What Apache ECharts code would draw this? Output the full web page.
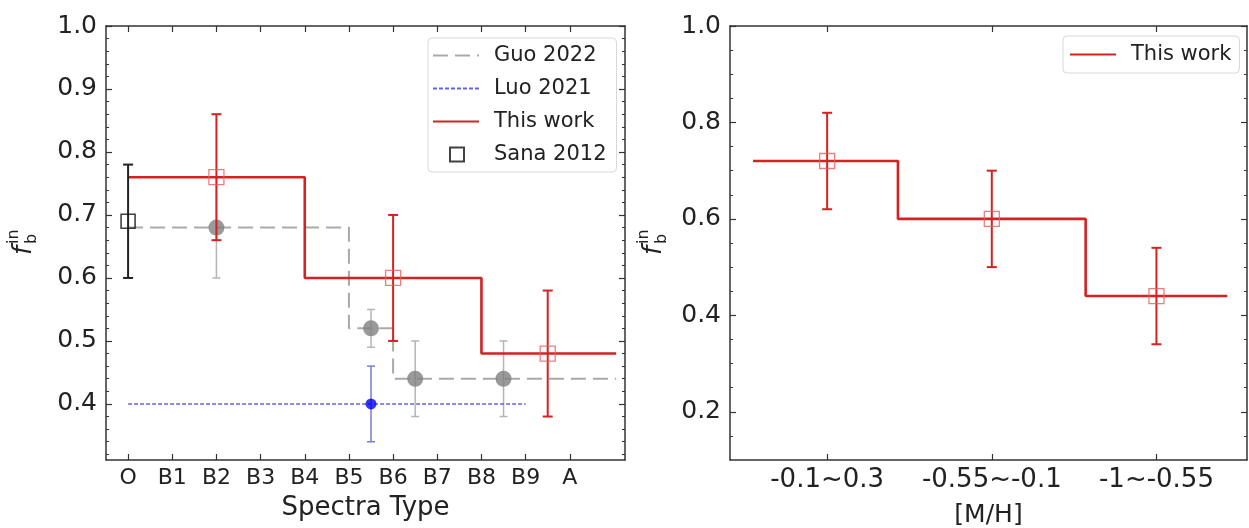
<!DOCTYPE html>
<html><head><meta charset="utf-8">
<script src="https://cdn.jsdelivr.net/npm/echarts@6/dist/echarts.min.js"></script>
<style>html,body{margin:0;padding:0;background:#fff}#c{width:1249px;height:528px}</style>
</head><body><div id="c"></div><script>
// ---------- data ----------
const spectraLabels = ['O','B1','B2','B3','B4','B5','B6','B7','B8','B9','A'];
const metalLabels = ['-0.1~0.3','-0.55~-0.1','-1~-0.55'];
const leftYTicks = [0.4,0.5,0.6,0.7,0.8,0.9,1.0];
const rightYTicks = [0.2,0.4,0.6,0.8,1.0];

// This work (spectral type)
const thisWorkEdges = [0, 4, 8, 11.05];
const thisWorkLevels = [0.76, 0.60, 0.48];
const thisWorkX = [2, 6, 9.5];
const thisWorkY = [0.76, 0.60, 0.48];
const thisWorkErr = [0.10, 0.10, 0.10];

// Guo 2022
const guoEdges = [0, 5, 6, 11.05];
const guoLevels = [0.68, 0.52, 0.44];
const guoX = [2, 5.5, 6.5, 8.5];
const guoY = [0.68, 0.52, 0.44, 0.44];
const guoErr = [0.08, 0.03, 0.06, 0.06];

// Luo 2021
const luoEdges = [0, 9];
const luoLevels = [0.40];
const luoX = [5.5];
const luoY = [0.40];
const luoErr = [0.06];

// Sana 2012
const sanaX = [0];
const sanaY = [0.69];
const sanaErr = [0.09];

// This work ([M/H])
const mhEdges = [-0.45, 0.43, 1.57, 2.43];
const mhLevels = [0.72, 0.60, 0.44];
const mhX = [0, 1, 2];
const mhY = [0.72, 0.60, 0.44];
const mhErr = [0.10, 0.10, 0.10];

// ---------- helpers ----------
const FONT = 'DejaVu Sans';
const AX = '#333';
function minorList(lo, hi, step, majors) {
  const out = [];
  for (let v = lo; v <= hi + 1e-9; v += step) {
    const r = Math.round(v * 1000) / 1000;
    if (!majors.some(m => Math.abs(m - r) < 1e-6)) out.push(r);
  }
  return out;
}
const leftYMinor = minorList(0.32, 0.98, 0.02, leftYTicks);
const rightYMinor = minorList(0.15, 0.95, 0.05, rightYTicks);

function stepPoints(edges, levels) {
  const pts = [];
  levels.forEach((v, i) => { pts.push([edges[i], v]); pts.push([edges[i + 1], v]); });
  return pts;
}

function yAxesFor(grid, min, max, majors, minors, fs) {
  const base = {type:'value', gridIndex:grid, min, max, splitLine:{show:false}, scale:true};
  return [
    Object.assign({}, base, {position:'left', axisLine:{show:true, onZero:false, lineStyle:{color:AX, width:1.5}},
      axisTick:{show:true, inside:true, length:6, customValues:majors, lineStyle:{color:AX, width:1.2}},
      axisLabel:{show:true, customValues:majors, margin:9, color:'#222', fontFamily:FONT, fontSize:fs,
        formatter: v => v.toFixed(1)}}),
    Object.assign({}, base, {position:'left', axisLine:{show:false, onZero:false},
      axisTick:{show:true, inside:true, length:3, customValues:minors, lineStyle:{color:AX, width:1}},
      axisLabel:{show:false}}),
    Object.assign({}, base, {position:'right', axisLine:{show:true, onZero:false, lineStyle:{color:AX, width:1.5}},
      axisTick:{show:true, inside:true, length:6, customValues:majors, lineStyle:{color:AX, width:1.2}},
      axisLabel:{show:false}}),
    Object.assign({}, base, {position:'right', axisLine:{show:false, onZero:false},
      axisTick:{show:true, inside:true, length:3, customValues:minors, lineStyle:{color:AX, width:1}},
      axisLabel:{show:false}})
  ];
}
function xAxesFor(grid, min, max, ticks, labels, fs, name, nameGap, nfs) {
  const base = {type:'value', gridIndex:grid, min, max, splitLine:{show:false}};
  return [
    Object.assign({}, base, {position:'bottom', axisLine:{show:true, onZero:false, lineStyle:{color:AX, width:1.5}},
      axisTick:{show:true, inside:true, length:6, customValues:ticks, lineStyle:{color:AX, width:1.2}},
      axisLabel:{show:true, customValues:ticks, margin:7, color:'#222', fontFamily:FONT, fontSize:fs,
        formatter: v => labels[Math.round(v)]},
      name, nameLocation:'middle', nameGap, nameTextStyle:{color:'#222', fontFamily:FONT, fontSize:nfs}}),
    Object.assign({}, base, {position:'top', axisLine:{show:true, onZero:false, lineStyle:{color:AX, width:1.5}},
      axisTick:{show:true, inside:true, length:6, customValues:ticks, lineStyle:{color:AX, width:1.2}},
      axisLabel:{show:false}})
  ];
}

function errSeries(name, xi, yi, xs, ys, errs, color, width, cap, z) {
  return {
    type:'custom', name, xAxisIndex:xi, yAxisIndex:yi, z, silent:true,
    data: xs.map((x, i) => [x, ys[i], errs[i]]),
    encode:{x:0, y:1},
    renderItem: (params, api) => {
      const x = api.value(0), y = api.value(1), e = api.value(2);
      const t = api.coord([x, y + e]), b = api.coord([x, y - e]);
      const st = {stroke:color, lineWidth:width};
      return {type:'group', children:[
        {type:'line', shape:{x1:t[0], y1:t[1], x2:b[0], y2:b[1]}, style:st},
        {type:'line', shape:{x1:t[0]-cap, y1:t[1], x2:t[0]+cap, y2:t[1]}, style:st},
        {type:'line', shape:{x1:b[0]-cap, y1:b[1], x2:b[0]+cap, y2:b[1]}, style:st}
      ]};
    }
  };
}
function markSeries(name, xi, yi, xs, ys, symbol, size, style, z) {
  return {type:'scatter', name, xAxisIndex:xi, yAxisIndex:yi, z, silent:true,
    symbol, symbolSize:size, symbolKeepAspect:true, itemStyle:style,
    data: xs.map((x, i) => [x, ys[i]])};
}
function stepSeries(name, xi, yi, edges, levels, lineStyle, z) {
  return {type:'line', name, xAxisIndex:xi, yAxisIndex:yi, z, silent:true, symbol:'none',
    itemStyle:{color:lineStyle.color, opacity:0},
    lineStyle, data: stepPoints(edges, levels)};
}

const RED = '#d42222';
const GRAYLINE = '#a9a9a9';
const GRAYPT = '#7f7f7f';
const GRAYERR = '#b5b5b5';
const BLUELINE = '#6464d8';
const SQ = {color:'rgba(0,0,0,0)', borderColor:'#e26060', borderWidth:1.3};

const series = [
  // left panel
  stepSeries('Guo 2022', 0, 0, guoEdges, guoLevels, {color:GRAYLINE, width:2, type:[15,7]}, 2),
  errSeries('guoErr', 0, 0, guoX, guoY, guoErr, GRAYERR, 1.5, 4, 3),
  markSeries('guoPts', 0, 0, guoX, guoY, 'circle', 16, {color:GRAYPT}, 4),
  stepSeries('Luo 2021', 0, 0, luoEdges, luoLevels, {color:BLUELINE, width:1.6, type:[4,2]}, 5),
  errSeries('luoErr', 0, 0, luoX, luoY, luoErr, '#7b7bd0', 1.5, 4, 6),
  markSeries('luoPts', 0, 0, luoX, luoY, 'circle', 11, {color:'#0000ee'}, 7),
  stepSeries('This work', 0, 0, thisWorkEdges, thisWorkLevels, {color:RED, width:2.6}, 8),
  errSeries('twErr', 0, 0, thisWorkX, thisWorkY, thisWorkErr, RED, 2, 5, 9),
  markSeries('twPts', 0, 0, thisWorkX, thisWorkY, 'rect', 15, SQ, 10),
  errSeries('sanaErr', 0, 0, sanaX, sanaY, sanaErr, '#222', 2, 5, 11),
  markSeries('Sana 2012', 0, 0, sanaX, sanaY, 'rect', 14, {color:'rgba(0,0,0,0)', borderColor:'#111', borderWidth:1.6}, 12),
  // right panel
  stepSeries('This work', 2, 4, mhEdges, mhLevels, {color:RED, width:2.6}, 8),
  errSeries('mhErr', 2, 4, mhX, mhY, mhErr, RED, 2, 5, 9),
  markSeries('mhPts', 2, 4, mhX, mhY, 'rect', 15, SQ, 10)
];

const hideSym = {opacity:0};
const squareIcon = 'path://M0,0M46,14M17,0L31,0L31,14L17,14Z';
const legendText = {color:'#222', fontFamily:FONT, fontSize:21, padding:[0,0,0,10]};
const option = {
  animation:false,
  backgroundColor:'#fff',
  grid:[
    {left:106, top:26, width:519, height:434, outerBoundsMode:'none', containLabel:false},
    {left:730, top:26, width:517, height:434, outerBoundsMode:'none', containLabel:false}
  ],
  xAxis:[
    ...xAxesFor(0, -0.5, 11.25, [0,1,2,3,4,5,6,7,8,9,10], spectraLabels, 22, 'Spectra Type', 35, 26),
    ...xAxesFor(1, -0.59, 2.55, [0,1,2], metalLabels, 26, '[M/H]', 43, 25)
  ],
  yAxis:[
    ...yAxesFor(0, 0.311, 1.0, leftYTicks, leftYMinor, 25),
    ...yAxesFor(1, 0.1, 1.0, rightYTicks, rightYMinor, 25)
  ],
  legend:[
    {orient:'vertical', left:428, top:38, padding:[7,10,7,4], itemGap:12, itemWidth:46, itemHeight:14,
      borderColor:'#d8d8d8', borderWidth:1, borderRadius:4, backgroundColor:'rgba(255,255,255,0.85)',
      textStyle:legendText, selectedMode:false,
      data:[
        {name:'Guo 2022', itemStyle:hideSym},
        {name:'Luo 2021', itemStyle:hideSym},
        {name:'This work', itemStyle:hideSym},
        {name:'Sana 2012', icon:squareIcon}
      ]},
    {orient:'vertical', left:1063, top:36, padding:[8,8,8,6], itemWidth:46, itemHeight:14,
      borderColor:'#d8d8d8', borderWidth:1, borderRadius:4, backgroundColor:'rgba(255,255,255,0.85)',
      textStyle:legendText, selectedMode:false,
      data:[{name:'This work', itemStyle:hideSym}]}
  ],
  graphic:[
    {type:'group', x:24, y:244, rotation:Math.PI/2, children:[
      {type:'text', x:-11, y:0, style:{text:'f', fontFamily:FONT, fontStyle:'italic', fontSize:26, fill:'#222', textVerticalAlign:'middle', textAlign:'left'}},
      {type:'text', x:0, y:-10, style:{text:'in', fontFamily:FONT, fontSize:16, fill:'#222', textVerticalAlign:'middle', textAlign:'left'}},
      {type:'text', x:0, y:8, style:{text:'b', fontFamily:FONT, fontSize:16, fill:'#222', textVerticalAlign:'middle', textAlign:'left'}}
    ]},
    {type:'group', x:654, y:244, rotation:Math.PI/2, children:[
      {type:'text', x:-11, y:0, style:{text:'f', fontFamily:FONT, fontStyle:'italic', fontSize:26, fill:'#222', textVerticalAlign:'middle', textAlign:'left'}},
      {type:'text', x:0, y:-10, style:{text:'in', fontFamily:FONT, fontSize:16, fill:'#222', textVerticalAlign:'middle', textAlign:'left'}},
      {type:'text', x:0, y:8, style:{text:'b', fontFamily:FONT, fontSize:16, fill:'#222', textVerticalAlign:'middle', textAlign:'left'}}
    ]}
  ],
  series
};
const chart = echarts.init(document.getElementById('c'), null, {renderer:'canvas'});
chart.setOption(option);
</script></body></html>
